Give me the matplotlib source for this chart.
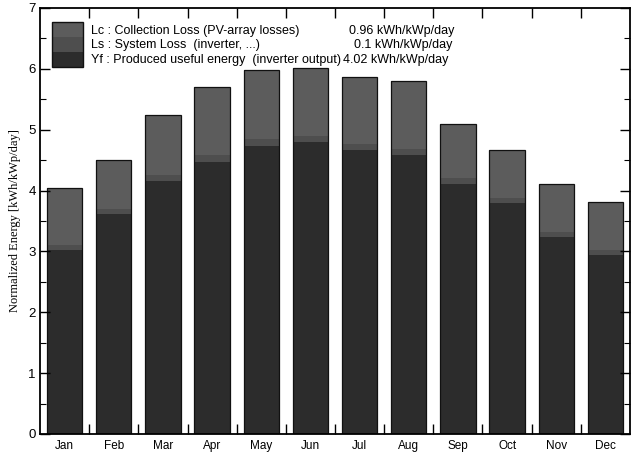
import numpy as np
import matplotlib
matplotlib.use("Agg")
import matplotlib.pyplot as plt
from matplotlib.patches import Rectangle
from matplotlib.ticker import MultipleLocator, FixedLocator, NullFormatter

plt.rcParams["font.family"] = ["Liberation Sans", "DejaVu Sans"]

# Monthly normalized energies [kWh/kWp/day]
months = ["Jan", "Feb", "Mar", "Apr", "May", "Jun",
          "Jul", "Aug", "Sep", "Oct", "Nov", "Dec"]
yf = [3.02, 3.61, 4.15, 4.47, 4.73, 4.79, 4.66, 4.58, 4.10, 3.79, 3.23, 2.94]
ls = [0.09, 0.09, 0.10, 0.11, 0.11, 0.11, 0.11, 0.11, 0.10, 0.09, 0.09, 0.08]
lc = [0.93, 0.80, 1.00, 1.12, 1.14, 1.11, 1.09, 1.11, 0.90, 0.78, 0.78, 0.79]

legend_labels = ["Lc : Collection Loss (PV-array losses)",
                 "Ls : System Loss  (inverter, ...)",
                 "Yf : Produced useful energy  (inverter output)"]
legend_values = ["0.96 kWh/kWp/day", "0.1 kWh/kWp/day", "4.02 kWh/kWp/day"]

c_yf, c_ls, c_lc = "#2c2c2c", "#4e4e4e", "#5c5c5c"

fig = plt.figure(figsize=(6.31, 4.53), dpi=100)
ax = fig.add_axes([40 / 631, 19 / 453, 590 / 631, 426 / 453])

x = np.arange(len(months))
yf_a, ls_a, lc_a = np.array(yf), np.array(ls), np.array(lc)
kw = dict(width=0.72, edgecolor="none", linewidth=0)
ax.bar(x, yf_a, color=c_yf, **kw)
ax.bar(x, ls_a, bottom=yf_a, color=c_ls, **kw)
ax.bar(x, lc_a, bottom=yf_a + ls_a, color=c_lc, **kw)
# thin dark outline around each full stack
ax.bar(x, yf_a + ls_a + lc_a, width=0.72, fill=False, edgecolor="#111111", linewidth=0.9)

ax.set_xlim(-0.5, 11.5)
ax.set_ylim(0, 7)

# month labels at bar centres, tick marks between bars
ax.xaxis.set_major_locator(FixedLocator(np.arange(0.5, 11.5, 1.0)))
ax.xaxis.set_major_formatter(NullFormatter())
ax.xaxis.set_minor_locator(FixedLocator(x))
ax.set_xticklabels(months, minor=True)
ax.tick_params(axis="x", which="major", direction="in", length=7, width=1.0,
               top=True, bottom=True)
ax.tick_params(axis="x", which="minor", length=0, pad=4, labelsize=8.5)

ax.yaxis.set_major_locator(MultipleLocator(1))
ax.yaxis.set_minor_locator(MultipleLocator(0.5))
ax.tick_params(axis="y", which="major", direction="in", length=7, width=1.0,
               left=True, right=True, labelsize=9.5, pad=3)
ax.tick_params(axis="y", which="minor", direction="in", length=4, width=0.8,
               left=True, right=True)

for side in ["left", "top", "bottom", "right"]:
    ax.spines[side].set_linewidth(1.3)
    ax.spines[side].set_color("black")

ax.set_ylabel("Normalized Energy [kWh/kWp/day]", family="Liberation Serif",
              fontsize=9, labelpad=5)


def ay(px):
    # pixel row in the figure -> axes fraction
    return (434 - px) / 426


# legend block: stacked swatches plus text lines
sw_x, sw_w = 0.020, 0.053
sw_h = 15 / 426
for i, col in enumerate([c_lc, c_ls, c_yf]):
    ax.add_patch(Rectangle((sw_x, ay(22) - (i + 1) * sw_h), sw_w, sw_h,
                           transform=ax.transAxes, facecolor=col,
                           edgecolor="none", zorder=5))
ax.add_patch(Rectangle((sw_x, ay(22) - 3 * sw_h), sw_w, 3 * sw_h,
                       transform=ax.transAxes, fill=False,
                       edgecolor="#111111", linewidth=1.0, zorder=6))

text_y = [ay(31), ay(45), ay(60)]
val_x = [0.524, 0.532, 0.514]
for i in range(3):
    ax.text(0.086, text_y[i], legend_labels[i], transform=ax.transAxes,
            fontsize=9, va="center", ha="left")
    ax.text(val_x[i], text_y[i], legend_values[i], transform=ax.transAxes,
            fontsize=9, va="center", ha="left")

fig.savefig("out.png", dpi=100)
